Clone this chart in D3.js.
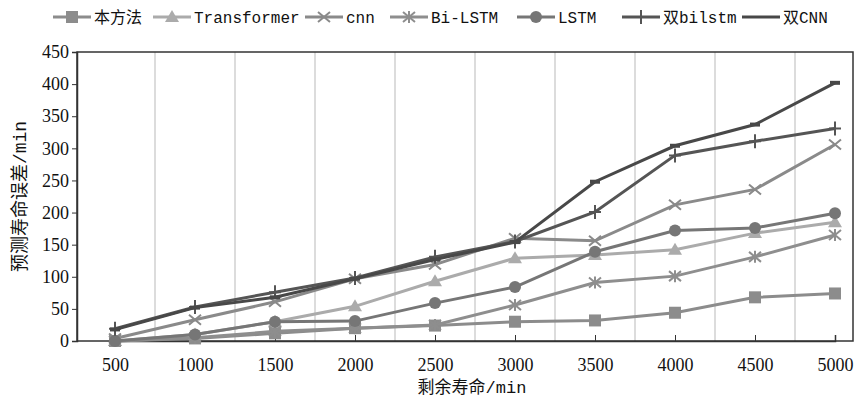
<!DOCTYPE html>
<html>
<head>
<meta charset="utf-8">
<script src="https://cdn.jsdelivr.net/npm/d3@7"></script>
<style>
  body { margin: 0; background: #fff; }
  .mono { font-family: "Liberation Mono", "Noto Sans CJK SC", monospace; fill: #111; }
</style>
</head>
<body>
<div id="chart"></div>
<script>
// categories (remaining life, min)
var categories = [500, 1000, 1500, 2000, 2500, 3000, 3500, 4000, 4500, 5000];
var yTicks = [0, 50, 100, 150, 200, 250, 300, 350, 400, 450];

// series values
var benFangFa   = [0, 4, 12, 20, 24, 30, 32, 44, 68, 74];
var transformer = [0, 10, 30, 54, 93, 129, 134, 142, 168, 185];
var cnnVals     = [4, 33, 61, 97, 119, 160, 156, 212, 236, 306];
var biLstm      = [0, 5, 15, 20, 25, 56, 91, 101, 131, 165];
var lstmVals    = [0, 10, 30, 31, 59, 84, 139, 172, 176, 199];
var shuangBilstm = [19, 53, 76, 98, 131, 155, 201, 289, 311, 331];
var shuangCnn   = [18, 52, 68, 97, 127, 154, 248, 304, 337, 402];

var seriesNames = ["本方法", "Transformer", "cnn", "Bi-LSTM", "LSTM", "双bilstm", "双CNN"];

var margin = { top: 52, right: 8, bottom: 59, left: 77 },
    width = 861 - margin.left - margin.right,
    height = 400 - margin.top - margin.bottom;

var series = [
  { name: seriesNames[0], values: benFangFa, color: "#8c8c8c", marker: "square" },
  { name: seriesNames[1], values: transformer, color: "#ababab", marker: "triangle" },
  { name: seriesNames[2], values: cnnVals, color: "#8a8a8a", marker: "x" },
  { name: seriesNames[3], values: biLstm, color: "#8e8e8e", marker: "star" },
  { name: seriesNames[4], values: lstmVals, color: "#767676", marker: "circle" },
  { name: seriesNames[5], values: shuangBilstm, color: "#555555", marker: "plus" },
  { name: seriesNames[6], values: shuangCnn, color: "#484848", marker: "dash" }
];

var svg = d3.select("#chart")
    .append("svg")
    .attr("width", 861)
    .attr("height", 400)
    .append("g")
    .attr("transform", "translate(" + margin.left + "," + margin.top + ")");

var x = d3.scaleLinear().domain([500, 5000]).range([38, 758]);
var y = d3.scaleLinear().domain([0, 450]).range([height, 0]);

// vertical grid lines between categories
var gridPos = categories.slice(0, -1).map(function (c) { return c + 250; });
svg.selectAll("gridLine")
    .data(gridPos)
    .enter()
    .append("line")
    .attr("x1", function (d) { return x(d); })
    .attr("x2", function (d) { return x(d); })
    .attr("y1", 0)
    .attr("y2", height)
    .attr("stroke", "#dcdcdc")
    .attr("stroke-width", 2);

// frame
svg.append("rect")
    .attr("x", 0).attr("y", 0)
    .attr("width", width).attr("height", height)
    .attr("fill", "none")
    .attr("stroke", "#333")
    .attr("stroke-width", 1.5);

// Y axis
var yAxis = svg.append("g")
    .call(d3.axisLeft(y).tickValues(yTicks).tickSize(5).tickPadding(3));
yAxis.select(".domain").attr("stroke", "#333").attr("stroke-width", 1.5);
yAxis.selectAll("line").attr("stroke", "#333");
yAxis.selectAll("text")
    .attr("font-family", "'Liberation Serif', serif")
    .attr("font-size", 18)
    .attr("fill", "#111");

// X axis (ticks pointing inward)
var xAxis = svg.append("g")
    .attr("transform", "translate(0," + height + ")")
    .call(d3.axisBottom(x).tickValues(categories).tickSize(-6).tickPadding(17).tickFormat(d3.format("d")));
xAxis.select(".domain").attr("stroke", "#333").attr("stroke-width", 1.5);
xAxis.selectAll("line").attr("stroke", "#333");
xAxis.selectAll("text")
    .attr("font-family", "'Liberation Serif', serif")
    .attr("font-size", 18)
    .attr("fill", "#111");

function drawMarker(g, type, color) {
  if (type === "square") {
    g.append("rect").attr("x", -6).attr("y", -6).attr("width", 12).attr("height", 12).attr("fill", color);
  } else if (type === "triangle") {
    g.append("path").attr("d", "M0,-7L7,5L-7,5Z").attr("fill", color);
  } else if (type === "circle") {
    g.append("circle").attr("r", 6).attr("fill", color);
  } else if (type === "x") {
    g.append("path").attr("d", "M-6,-5L6,5M-6,5L6,-5").attr("stroke", color).attr("stroke-width", 2).attr("fill", "none");
  } else if (type === "star") {
    g.append("path").attr("d", "M-6,-5L6,5M-6,5L6,-5M0,-6L0,6").attr("stroke", color).attr("stroke-width", 2).attr("fill", "none");
  } else if (type === "plus") {
    g.append("path").attr("d", "M-6,0L6,0M0,-7L0,7").attr("stroke", color).attr("stroke-width", 2).attr("fill", "none");
  } else if (type === "dash") {
    g.append("path").attr("d", "M-5,0L5,0").attr("stroke", color).attr("stroke-width", 4).attr("fill", "none");
  }
}

var line = d3.line()
    .x(function (d, i) { return x(categories[i]); })
    .y(function (d) { return y(d); });

series.forEach(function (s) {
  svg.append("path")
      .attr("d", line(s.values))
      .attr("fill", "none")
      .attr("stroke", s.color)
      .attr("stroke-width", 3);
  s.values.forEach(function (v, i) {
    var g = svg.append("g").attr("transform", "translate(" + x(categories[i]) + "," + y(v) + ")");
    drawMarker(g, s.marker, s.color);
  });
});

// legend
var legendX = [53, 153, 305, 390, 517, 622, 742];
var legend = d3.select("svg").append("g");
series.forEach(function (s, i) {
  var lg = legend.append("g").attr("transform", "translate(" + legendX[i] + ",17)");
  lg.append("line").attr("x1", 0).attr("x2", 38).attr("y1", 0).attr("y2", 0)
      .attr("stroke", s.color).attr("stroke-width", 3);
  var m = lg.append("g").attr("transform", "translate(19,0)");
  if (s.marker !== "dash") drawMarker(m, s.marker, s.color);
  lg.append("text")
      .attr("class", "mono")
      .attr("x", 41)
      .attr("y", 0)
      .attr("dy", "0.35em")
      .style("font-size", "16px")
      .text(s.name);
});

// axis titles
svg.append("text")
    .attr("class", "mono")
    .attr("transform", "rotate(-90)")
    .attr("x", -height / 2)
    .attr("y", -margin.left + 26)
    .style("text-anchor", "middle")
    .style("font-size", "18px")
    .text("预测寿命误差/min");

svg.append("text")
    .attr("class", "mono")
    .attr("x", 395)
    .attr("y", height + 52)
    .style("text-anchor", "middle")
    .style("font-size", "17px")
    .text("剩余寿命/min");
</script>
</body>
</html>
